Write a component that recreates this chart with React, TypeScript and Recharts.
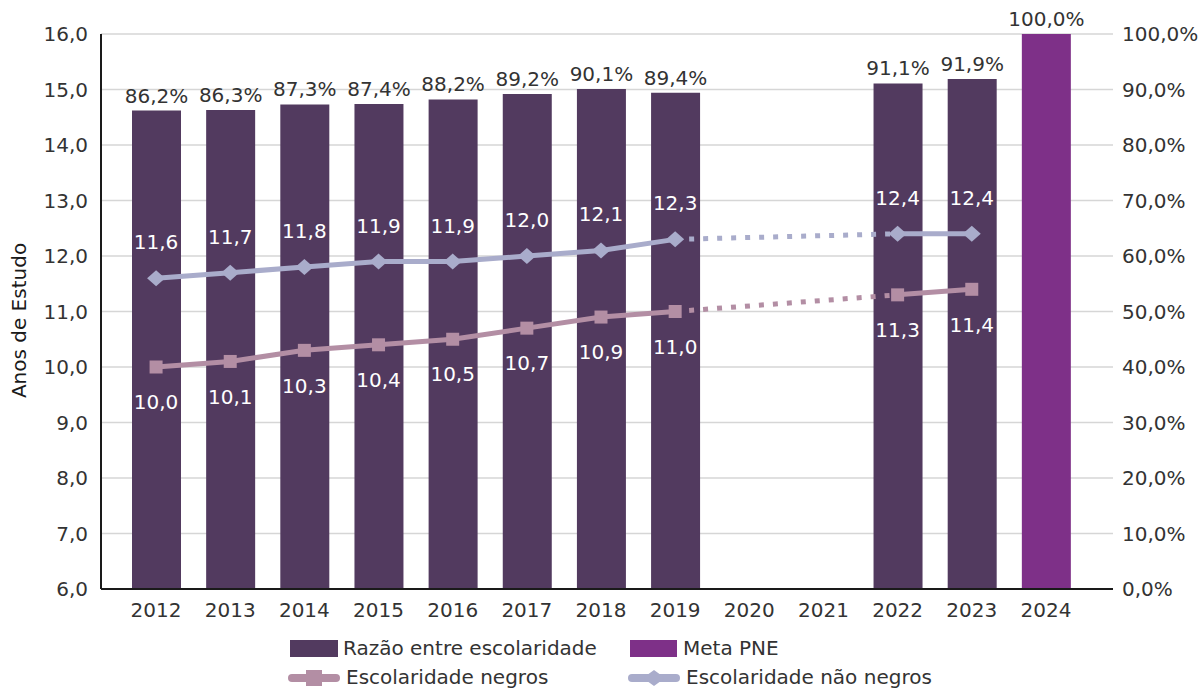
import React from 'react';
import { ComposedChart, Bar, Line, XAxis, YAxis, CartesianGrid, Cell, LabelList } from 'recharts';

const years = ['2012', '2013', '2014', '2015', '2016', '2017', '2018', '2019', '2020', '2021', '2022', '2023', '2024'];
const razao: (number | null)[] = [86.2, 86.3, 87.3, 87.4, 88.2, 89.2, 90.1, 89.4, null, null, 91.1, 91.9, null];
const metaPNE: (number | null)[] = [null, null, null, null, null, null, null, null, null, null, null, null, 100];
const negros: (number | null)[] = [10.0, 10.1, 10.3, 10.4, 10.5, 10.7, 10.9, 11.0, null, null, 11.3, 11.4, null];
const naoNegros: (number | null)[] = [11.6, 11.7, 11.8, 11.9, 11.9, 12.0, 12.1, 12.3, null, null, 12.4, 12.4, null];
const leftTicks = [6, 7, 8, 9, 10, 11, 12, 13, 14, 15, 16];
const rightTicks = [0, 10, 20, 30, 40, 50, 60, 70, 80, 90, 100];

const C_BAR = '#523A5F';
const C_META = '#7E3088';
const C_NEG = '#B38EA4';
const C_NAO = '#A9ACCB';
const C_TEXT = '#333333';
const FONT = '"DejaVu Sans", sans-serif';

function gapEnds(v: (number | null)[]): (number | null)[] {
  const n = v.length;
  return v.map((x, i) => {
    if (x == null) return null;
    const before = v.slice(0, i).some((y) => y != null);
    const after = v.slice(i + 1).some((y) => y != null);
    if (i + 1 < n && v[i + 1] == null && after) return x;
    if (i - 1 >= 0 && v[i - 1] == null && before) return x;
    return null;
  });
}

const negGap = gapEnds(negros);
const naoGap = gapEnds(naoNegros);

const data = years.map((y, i) => ({
  year: y,
  bar: razao[i] != null ? razao[i] : metaPNE[i],
  isMeta: razao[i] == null && metaPNE[i] != null,
  negros: negros[i],
  naoNegros: naoNegros[i],
  negGap: negGap[i],
  naoGap: naoGap[i],
}));

const fmt1 = (v: any) => (v == null ? '' : Number(v).toFixed(1).replace('.', ','));
const fmtPct = (v: any) => (v == null ? '' : Number(v).toFixed(1).replace('.', ',') + '%');

const SquareDot = (props: any) => {
  const { cx, cy, index, value } = props;
  if (cx == null || cy == null || value == null) return <g key={'s' + index} />;
  return <rect key={'s' + index} x={cx - 6.5} y={cy - 6.5} width={13} height={13} fill={C_NEG} />;
};

const DiamondDot = (props: any) => {
  const { cx, cy, index, value } = props;
  if (cx == null || cy == null || value == null) return <g key={'d' + index} />;
  return (
    <polygon
      key={'d' + index}
      points={`${cx - 9},${cy} ${cx},${cy - 8} ${cx + 9},${cy} ${cx},${cy + 8}`}
      fill={C_NAO}
    />
  );
};

const YTitle = (props: any) => {
  const vb = props.viewBox || {};
  const cx = 19;
  const cy = (vb.y ?? 34) + (vb.height ?? 555) / 2 + 9;
  return (
    <text
      x={cx}
      y={cy}
      transform={`rotate(-90, ${cx}, ${cy})`}
      textAnchor="middle"
      dominantBaseline="central"
      fill="#1a1a1a"
      fontSize={20}
      fontFamily={FONT}
    >
      Anos de Estudo
    </text>
  );
};

const LineIcon = ({ color, marker }: { color: string; marker: 'square' | 'diamond' }) => (
  <svg width={52} height={18} style={{ display: 'block' }}>
    <line x1={4} y1={9} x2={48} y2={9} stroke={color} strokeWidth={8} strokeLinecap="round" />
    {marker === 'square' ? (
      <rect x={18} y={1} width={16} height={16} fill={color} />
    ) : (
      <polygon points="15,9 26,1 37,9 26,17" fill={color} />
    )}
  </svg>
);

const legendText: React.CSSProperties = {
  position: 'absolute',
  fontFamily: FONT,
  fontSize: 20,
  color: C_TEXT,
  lineHeight: '20px',
  whiteSpace: 'nowrap',
};

export default function App() {
  return (
    <div style={{ position: 'absolute', left: 0, top: 0, width: 1201, height: 688, background: '#fff', overflow: 'hidden' }}>
      <ComposedChart
        width={1201}
        height={688}
        data={data}
        margin={{ top: 34, right: 0, bottom: 59, left: 0 }}
        style={{ fontFamily: FONT }}
      >
        <CartesianGrid vertical={false} stroke="#D6D6D6" strokeWidth={1.5} yAxisId="left" />
        <XAxis
          dataKey="year"
          padding={{ left: 18, right: 30 }}
          axisLine={{ stroke: '#1a1a1a', strokeWidth: 2 }}
          tickLine={false}
          tickSize={6}
          tickMargin={8}
          height={40}
          interval={0}
          tick={{ fill: C_TEXT, fontSize: 20, fontFamily: FONT }}
        />
        <YAxis
          yAxisId="left"
          domain={[6, 16]}
          ticks={leftTicks}
          interval={0}
          width={101}
          tickFormatter={fmt1}
          axisLine={{ stroke: '#1a1a1a', strokeWidth: 2 }}
          tickLine={false}
          tickSize={6}
          tickMargin={7}
          tick={{ fill: C_TEXT, fontSize: 20, fontFamily: FONT }}
          label={<YTitle />}
        />
        <YAxis
          yAxisId="right"
          orientation="right"
          domain={[0, 100]}
          ticks={rightTicks}
          interval={0}
          width={88}
          tickFormatter={fmtPct}
          axisLine={false}
          tickLine={false}
          tickSize={4}
          tickMargin={5}
          tick={{ fill: C_TEXT, fontSize: 20, fontFamily: FONT }}
        />
        <Bar dataKey="bar" yAxisId="right" barSize={49} isAnimationActive={false}>
          {data.map((d, i) => (
            <Cell key={i} fill={d.isMeta ? C_META : C_BAR} />
          ))}
          <LabelList
            dataKey="bar"
            position="top"
            offset={8}
            formatter={fmtPct}
            style={{ fill: C_TEXT, fontSize: 20, fontFamily: FONT }}
          />
        </Bar>
        <Line
          dataKey="negGap"
          yAxisId="left"
          stroke={C_NEG}
          strokeWidth={5}
          strokeDasharray="5 9"
          connectNulls
          dot={false}
          activeDot={false}
          isAnimationActive={false}
        />
        <Line
          dataKey="naoGap"
          yAxisId="left"
          stroke={C_NAO}
          strokeWidth={5}
          strokeDasharray="5 9"
          connectNulls
          dot={false}
          activeDot={false}
          isAnimationActive={false}
        />
        <Line
          dataKey="negros"
          yAxisId="left"
          stroke={C_NEG}
          strokeWidth={5}
          dot={SquareDot}
          activeDot={false}
          isAnimationActive={false}
        >
          <LabelList
            dataKey="negros"
            position="bottom"
            offset={28}
            formatter={fmt1}
            style={{ fill: '#ffffff', fontSize: 20, fontFamily: FONT }}
          />
        </Line>
        <Line
          dataKey="naoNegros"
          yAxisId="left"
          stroke={C_NAO}
          strokeWidth={5}
          dot={DiamondDot}
          activeDot={false}
          isAnimationActive={false}
        >
          <LabelList
            dataKey="naoNegros"
            position="top"
            offset={29}
            formatter={fmt1}
            style={{ fill: '#ffffff', fontSize: 20, fontFamily: FONT }}
          />
        </Line>
      </ComposedChart>

      <div style={{ position: 'absolute', left: 290, top: 640, width: 48, height: 17, background: C_BAR }} />
      <div style={{ ...legendText, left: 343, top: 638 }}>Razão entre escolaridade</div>
      <div style={{ position: 'absolute', left: 630, top: 640, width: 47, height: 17, background: C_META }} />
      <div style={{ ...legendText, left: 683, top: 638 }}>Meta PNE</div>

      <div style={{ position: 'absolute', left: 288, top: 669 }}>
        <LineIcon color={C_NEG} marker="square" />
      </div>
      <div style={{ ...legendText, left: 346, top: 667 }}>Escolaridade negros</div>
      <div style={{ position: 'absolute', left: 628, top: 669 }}>
        <LineIcon color={C_NAO} marker="diamond" />
      </div>
      <div style={{ ...legendText, left: 686, top: 667 }}>Escolaridade não negros</div>
    </div>
  );
}
